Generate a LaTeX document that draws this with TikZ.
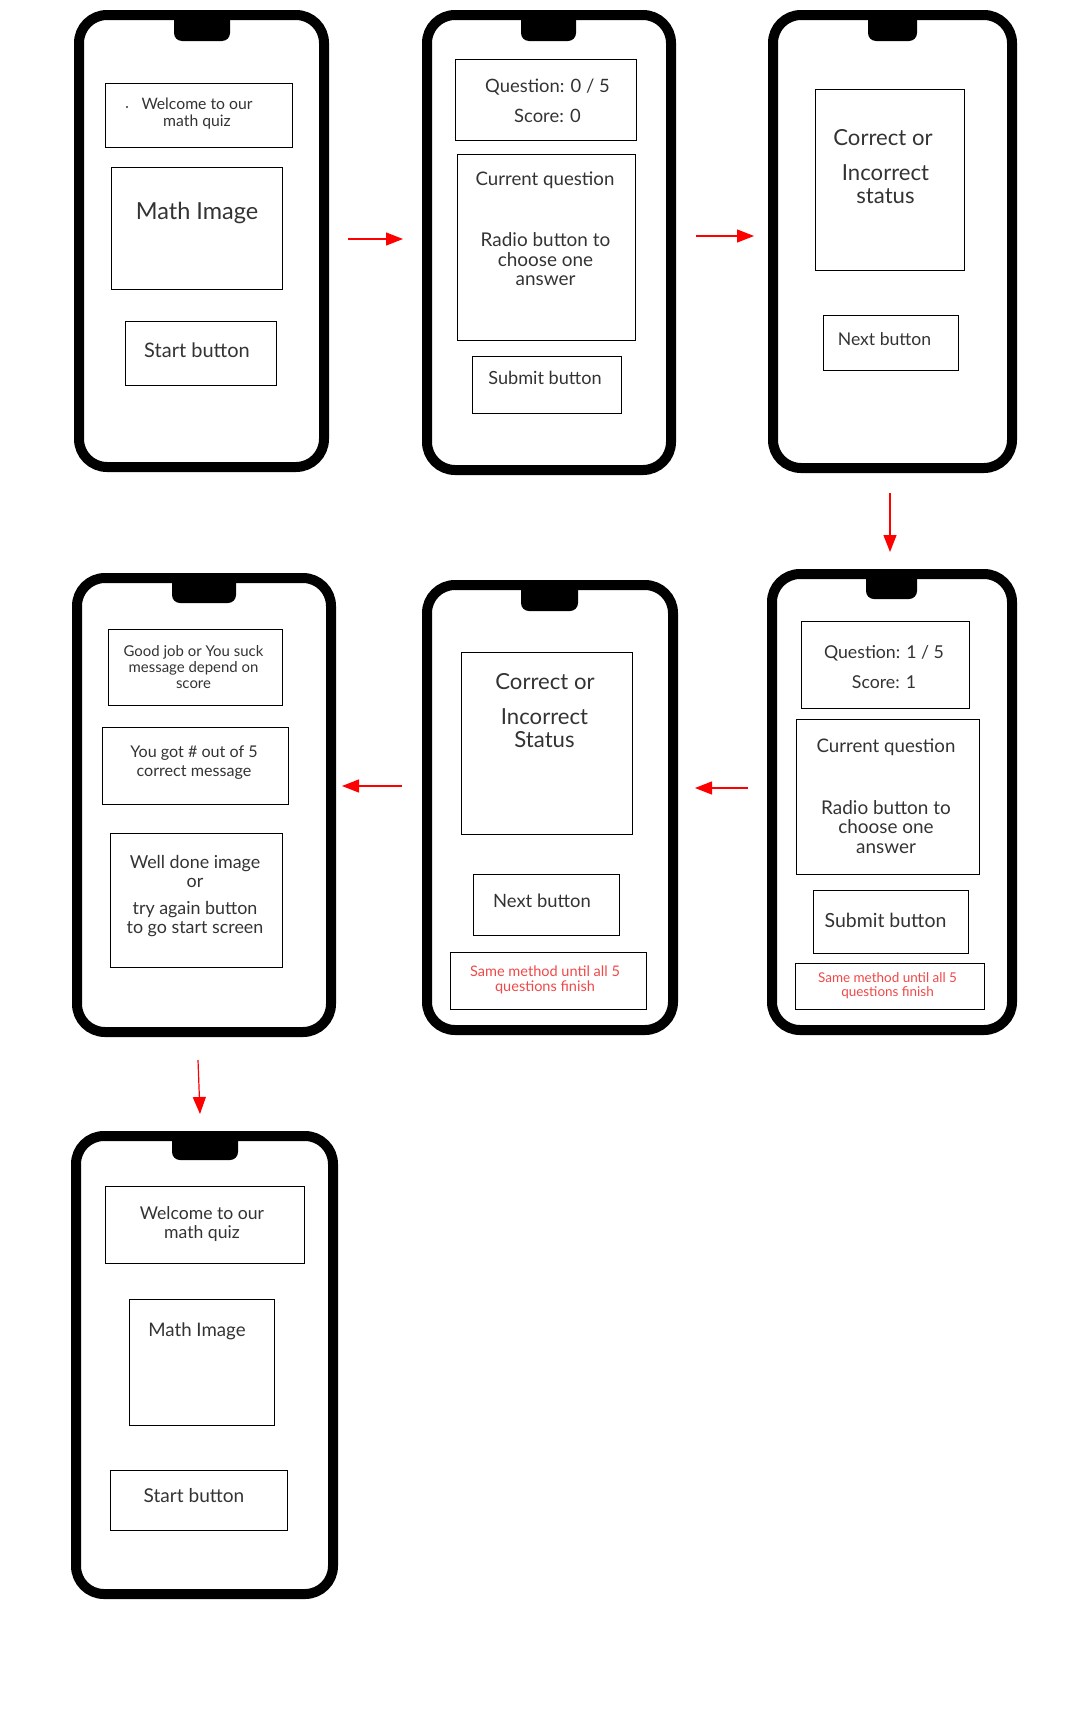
\documentclass[tikz,border=0pt]{standalone}
\usepackage{fontspec}
\setmainfont{Lato}
\usetikzlibrary{arrows.meta,fit}

\definecolor{txtgray}{HTML}{333333}
\definecolor{redtxt}{HTML}{F04848}
\definecolor{flowred}{HTML}{FF0000}
\newcommand{\fsz}[2]{\fontsize{#1pt}{#2pt}\selectfont}

\tikzset{
  phone/.style={draw, line width=7.5pt, rounded corners=21pt, inner sep=0pt},
  notch/.style={fill=black, rounded corners=6pt, inner sep=0pt},
  uibox/.style={draw, line width=0.7pt, inner sep=0pt},
  lbl/.style={text=txtgray, align=center, inner sep=0pt},
  redlbl/.style={text=redtxt, align=center, inner sep=0pt},
  flow/.style={draw=flowred, line width=0.9pt, -{Triangle[length=12.75pt,width=9.75pt]}}
}

\begin{document}
\begin{tikzpicture}[x=0.75pt, y=-0.75pt]
  \useasboundingbox (0,0) rectangle (1067,1710);

  % Phones with notch
  \foreach \p/\l/\t/\r/\b/\nl/\nr/\nb in {1/79/15/324/467/174/230/41, 2/427/15/671/470/521/576/41,
      3/773/15/1012/468/868/917/41, 4/77/578/331/1032/172/236/603, 5/427/585/673/1030/521/578/611,
      6/772/574/1012/1030/866/917/599, 7/76/1136/333/1594/172/238/1160} {
    \node[phone, fit={(\l,\t) (\r,\b)}] (p\p) {};
    \node[notch, fit={(\nl,\t-3) (\nr,\nb)}] (n\p) {};
  }

  % Screen boxes
  \foreach \n/\xa/\ya/\xb/\yb in {welcome1/105/83/292/147, math1/111/167/282/289, start1/125/321/276/385,
      qs2/455/59/636/140, cq2/457/154/635/340, submit2/472/356/621/413,
      status3/815/89/964/270, next3/823/315/958/370,
      good4/108/629/282/705, got4/102/727/288/804, well4/110/833/282/967,
      status5/461/652/632/834, next5/473/874/619/935, red5/450/952/646/1009,
      qs6/801/621/969/708, cq6/796/719/979/874, submit6/813/890/968/953, red6/795/963/984/1009,
      welcome7/105/1186/304/1263, math7/129/1299/274/1425, start7/110/1470/287/1530} {
    \node[uibox, fit={(\xa,\ya) (\xb,\yb)}] (\n) {};
  }

  % Phone 1: start screen
  \fill[txtgray] (127,107) circle (0.9pt);
  \node[lbl, font=\fsz{11.8}{12.75}] (t-welcome1) at (197,113.5) {Welcome to our\\math quiz};
  \node[lbl, font=\fsz{17.6}{19}] (t-math1) at (197,213) {Math Image};
  \node[lbl, font=\fsz{15}{17}] (t-start1) at (197,350) {Start button};

  % Phone 2: first question
  \node[lbl, font=\fsz{13.8}{22.5}] (t-qs2) at (547.5,101) {Question: 0 / 5\\Score: 0};
  \node[lbl, font=\fsz{14}{14.6}] (t-cq2) at (545,180) {Current question};
  \node[lbl, font=\fsz{14.2}{14.6}] (t-radio2) at (545.5,259.5) {Radio button to\\choose one\\answer};
  \node[lbl, font=\fsz{13.6}{14.6}] (t-submit2) at (545,378) {Submit button};

  % Phone 3: status
  \node[lbl, font=\fsz{16.6}{17.25}] (t-st3a) at (883,138) {Correct or};
  \node[lbl, font=\fsz{16.6}{17.25}] (t-st3b) at (885.5,184.5) {Incorrect\\status};
  \node[lbl, font=\fsz{13.2}{14}] (t-next3) at (884.5,339) {Next button};

  % Phone 4: result
  \node[lbl, font=\fsz{11.2}{12}] (t-good4) at (193.5,667) {Good job or You suck\\message depend on\\score};
  \node[lbl, font=\fsz{12.1}{13.9}] (t-got4) at (194,762.5) {You got \# out of 5\\correct message};
  \node[lbl, font=\fsz{13.4}{14.25}] (t-well4a) at (195,871.5) {Well done image\\or};
  \node[lbl, font=\fsz{13.4}{14.25}] (t-well4b) at (195,919) {try again button\\to go start screen};

  % Phone 5: status
  \node[lbl, font=\fsz{16.6}{17.25}] (t-st5a) at (545,682) {Correct or};
  \node[lbl, font=\fsz{16.6}{17.25}] (t-st5b) at (544.5,728.5) {Incorrect\\Status};
  \node[lbl, font=\fsz{13.8}{14.6}] (t-next5) at (542,901) {Next button};
  \node[redlbl, font=\fsz{10.9}{11.25}] (t-red5) at (545,979.5) {Same method until all 5\\questions finish};

  % Phone 6: next question
  \node[lbl, font=\fsz{13.3}{22.5}] (t-qs6) at (884,667) {Question: 1 / 5\\Score: 1};
  \node[lbl, font=\fsz{14}{14.6}] (t-cq6) at (886,747) {Current question};
  \node[lbl, font=\fsz{14.2}{14.6}] (t-radio6) at (886,827) {Radio button to\\choose one\\answer};
  \node[lbl, font=\fsz{14.6}{15}] (t-submit6) at (885.5,920) {Submit button};
  \node[redlbl, font=\fsz{10.1}{10.5}] (t-red6) at (887.5,986) {Same method until all 5\\questions finish};

  % Phone 7: back to start
  \node[lbl, font=\fsz{13.2}{14.25}] (t-welcome7) at (202,1224) {Welcome to our\\math quiz};
  \node[lbl, font=\fsz{14}{15}] (t-math7) at (197,1331) {Math Image};
  \node[lbl, font=\fsz{14.3}{15}] (t-start7) at (194,1496) {Start button};

  % Flow arrows
  \foreach \n/\xa/\ya/\xb/\yb in {1/348/239/403/239, 2/696/236/754/236, 3/890/493/890/552,
      4/748/788/695/788, 5/402/786/342/786, 6/198/1060/200/1114} {
    \coordinate (s\n) at (\xa,\ya);
    \coordinate (e\n) at (\xb,\yb);
    \draw[flow] (s\n) -- (e\n);
  }
\end{tikzpicture}
\end{document}
